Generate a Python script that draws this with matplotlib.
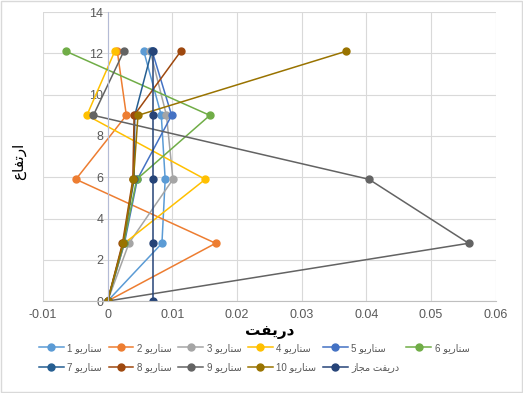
import matplotlib
matplotlib.use('Agg')
import matplotlib.pyplot as plt
from matplotlib.patches import Rectangle

plt.rcParams['font.family'] = ['Liberation Sans', 'DejaVu Sans']

# heights (storey levels)
heights = [0, 2.8, 5.9, 9.0, 12.1]

# drift values per scenario
s1 = [0, 0.0084, 0.0089, 0.0083, 0.0056]
s2 = [0, 0.0167, -0.0049, 0.0029, 0.0015]
s3 = [0, 0.0033, 0.0101, 0.0091, 0.0066]
s4 = [0, 0.0026, 0.0151, -0.0032, 0.0011]
s5 = [0, 0.0026, 0.0046, 0.0099, 0.0069]
s6 = [0, 0.0025, 0.0045, 0.0158, -0.0064]
s7 = [0, 0.0024, 0.0041, 0.0042, 0.0068]
s8 = [0, 0.0023, 0.0039, 0.0041, 0.0113]
s9 = [0, 0.0558, 0.0404, -0.0022, 0.0025]
s10 = [0, 0.0024, 0.0040, 0.0047, 0.0368]
allowed = [0.007, 0.007, 0.007, 0.007, 0.007]

# Persian labels written in shaped (presentation) forms, visual order
word_scn = '\uFEEE\uFEF3\uFEAD\uFE8E\uFEE8\uFEB3'   # سناریو
labels = ['%d %s' % (i, word_scn) for i in range(1, 11)]
labels.append('\uFEAF\uFE8E\uFEA0\uFEE3 \uFE96\uFED4\uFEF3\uFEAD\uFEA9')  # دریفت مجاز
xlab = '\uFE96\uFED4\uFEF3\uFEAD\uFEA9'            # دریفت
ylab = '\uFEC9\uFE8E\uFED4\uFE97\uFEAD\uFE8D'      # ارتفاع

series = [s1, s2, s3, s4, s5, s6, s7, s8, s9, s10, allowed]
colors = ['#5B9BD5', '#ED7D31', '#A5A5A5', '#FFC000', '#4472C4', '#70AD47',
          '#255E91', '#9E480E', '#636363', '#997300', '#264478']

xticks = [-0.01, 0, 0.01, 0.02, 0.03, 0.04, 0.05, 0.06]
xticklabels = ['-0.01', '0', '0.01', '0.02', '0.03', '0.04', '0.05', '0.06']
yticks = [0, 2, 4, 6, 8, 10, 12, 14]

fig = plt.figure(figsize=(5.23, 3.93), dpi=100)
ax = fig.add_axes([0.082, 0.234, 0.866, 0.735])

lines = []
for s, c, lab in zip(series, colors, labels):
    l, = ax.plot(s, heights, '-o', color=c, lw=1.1, ms=5, label=lab)
    lines.append(l)

ax.set_xlim(-0.01, 0.06)
ax.set_ylim(0, 14)
ax.set_xticks(xticks)
ax.set_xticklabels(xticklabels)
ax.set_yticks(yticks)
ax.grid(True, color='#D9D9D9', lw=0.8)
ax.set_axisbelow(True)
ax.tick_params(length=0, labelsize=9, labelcolor='#595959')
ax.tick_params(axis='x', pad=6)
ax.tick_params(axis='y', pad=3)

for sp in ['top', 'right']:
    ax.spines[sp].set_visible(False)
ax.spines['left'].set_position(('data', 0))
ax.spines['left'].set_color('#B4BBD6')
ax.spines['bottom'].set_color('#BFBFBF')

ax.set_xlabel(xlab, fontsize=11, fontweight='bold', family=['DejaVu Sans'], labelpad=2)
fig.text(0.035, 0.59, ylab, rotation=90, fontsize=11, ha='center', va='center',
         family=['DejaVu Sans'])

# row-wise order for the legend (6 columns)
order = [0, 6, 1, 7, 2, 8, 3, 9, 4, 10, 5]
leg = fig.legend([lines[i] for i in order], [labels[i] for i in order],
                 loc='upper left', bbox_to_anchor=(0.062, 0.145), ncol=6,
                 frameon=False, fontsize=7, handlelength=2.5,
                 columnspacing=0.7, handletextpad=0.4, labelspacing=0.95,
                 borderpad=0.2, labelcolor='#595959')

fig.patches.append(Rectangle((0.002, 0.002), 0.996, 0.996, transform=fig.transFigure,
                             fill=False, edgecolor='#D9D9D9', lw=1))

plt.savefig('out.png', dpi=100)
